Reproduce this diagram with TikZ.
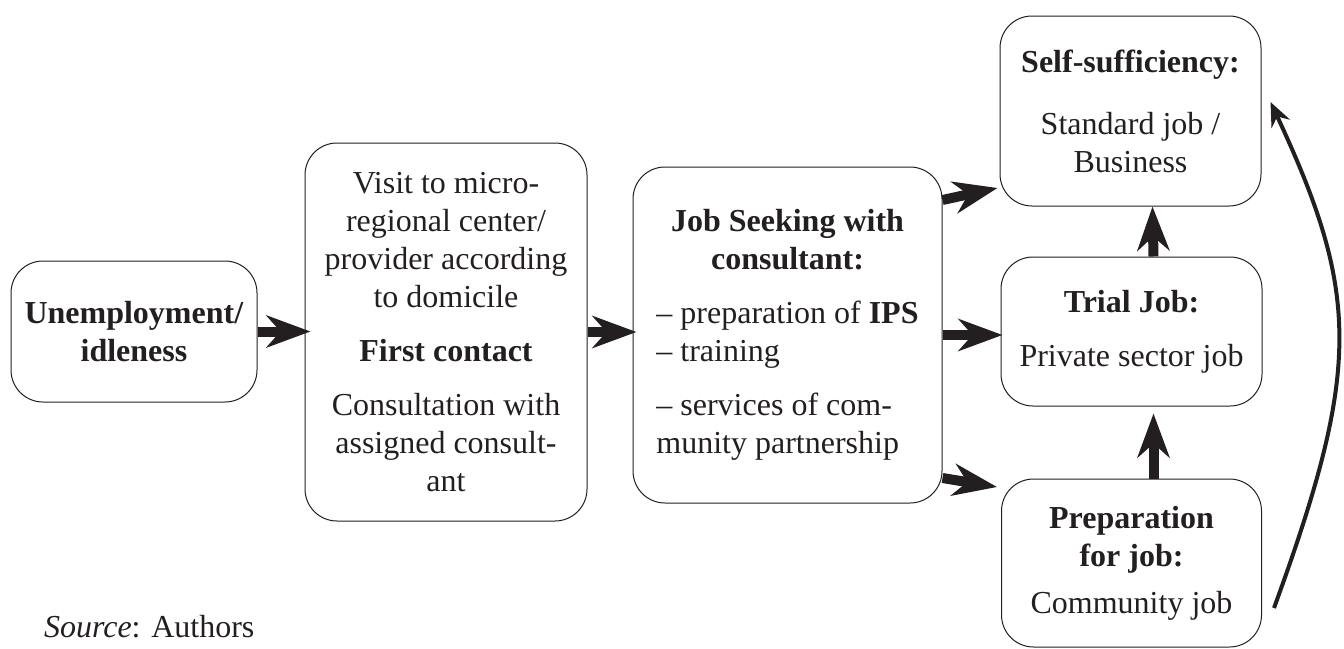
\documentclass[tikz,border=0pt]{standalone}
\usepackage{fontspec}
\setmainfont{Liberation Serif}
\usepackage{tikz}
\usetikzlibrary{arrows.meta}
\definecolor{ink}{RGB}{35,31,32}
\tikzset{>={Stealth[length=22pt,width=16pt,inset=7pt]}}
\tikzset{
  box/.style={draw=ink, line width=0.5pt, rounded corners=16pt, align=center,
    inner sep=0pt, text=ink, font=\fontsize{16}{19}\selectfont},
  flow/.style={->, draw=ink, line width=5pt},
  back/.style={-{Stealth[length=12pt,width=10pt,inset=4pt]}, draw=ink, line width=2pt},
}

\begin{document}
\begin{tikzpicture}

  \useasboundingbox (0pt,0pt) rectangle (672pt,-324pt);

  %% boxes
  \node[box, minimum width=123pt, minimum height=70.5pt] (unemp) at (67pt,-165.75pt)
  {\textbf{Unemployment/}\\\textbf{idleness}};
  \node[box, minimum width=141pt, minimum height=189pt] (visit) at (223pt,-166pt)
  {Visit to micro-\\regional center/\\provider according\\to domicile\\[8pt]
   \textbf{First contact}\\[8pt]Consultation with\\assigned consult-\\ant};
  \node[box, minimum width=154.5pt, minimum height=168pt] (seek) at (393.75pt,-167.5pt)
  {\begin{tabular}{@{}l@{}}
   \multicolumn{1}{@{}c@{}}{\textbf{Job Seeking with}}\\
   \multicolumn{1}{@{}c@{}}{\textbf{consultant:}}\\[8pt]
   -- preparation of \textbf{IPS}\\
   -- training\\[8pt]
   -- services of com-\\
   munity partnership
   \end{tabular}};
  \node[box, minimum width=130.5pt, minimum height=95pt] (self) at (565.25pt,-55.5pt)
  {\textbf{Self-sufficiency:}\\[12pt]Standard job /\\Business};
  \node[box, minimum width=130.5pt, minimum height=74.5pt] (trial) at (565.75pt,-165.75pt)
  {\textbf{Trial Job:}\\[8pt]Private sector job};
  \node[box, minimum width=130pt, minimum height=84pt] (prep) at (565.75pt,-281.5pt)
  {\textbf{Preparation}\\\textbf{for job:}\\[4.5pt]Community job};

  %% source
  \node[anchor=base west, text=ink, font=\fontsize{16}{19}\selectfont] (source)
  at (18.5pt,-318.5pt) {\textit{Source}: Authors};

  %% main flow
  \draw[flow, shorten >=-3pt] (unemp.east) -- (unemp.east -| visit.west);
  \draw[flow, shorten >=-2pt] (visit.east) -- (visit.east -| seek.west);
  \draw[flow, shorten >=-1pt] (seek.east) -- (seek.east -| trial.west);
  \draw[flow] ([yshift=67.5pt]seek.east) -- ([xshift=-1pt,yshift=-38.5pt]self.west);
  \draw[flow] ([yshift=-71.5pt]seek.east) -- ([xshift=-2pt,yshift=38pt]prep.west);

  %% upwards
  \draw[flow] ([xshift=11pt]trial.north) -- ([xshift=11pt]self.south);
  \draw[flow] ([xshift=11pt]prep.north) -- ([xshift=11pt,yshift=-3.5pt]trial.south);
  \draw[back] ([xshift=6pt,yshift=-22.5pt]prep.east)
  .. controls +(43.5pt,119.5pt) and +(45pt,-96.5pt) ..
  ([xshift=4.5pt,yshift=4.5pt]self.east);

\end{tikzpicture}
\end{document}
